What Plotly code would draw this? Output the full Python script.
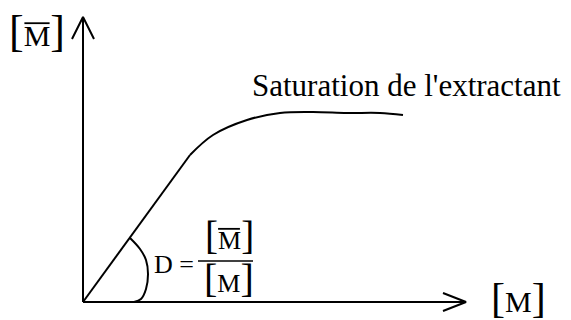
"""Extraction isotherm sketch: organic vs aqueous metal concentration."""

import plotly.graph_objects as go

# axes drawn in px-like units, origin at the corner of the two arrows
X_END = 383          # tip of the [M] arrow
Y_END = 285          # tip of the [M-bar] arrow

# linear part of the isotherm, then the bend up to the plateau
LINEAR_X = [0, 107]
LINEAR_Y = [0, 147]
PLATEAU_X = [107, 130, 164, 197, 230, 264, 297, 320]
PLATEAU_Y = [147, 167, 182, 189, 190, 189, 189, 187]

# small arc marking the slope angle D
ARC_X = [47, 57, 63, 65, 63, 58, 51]
ARC_Y = [64, 53, 42, 28, 13, 3, 0]

SAT_LABEL = "Saturation de l'extractant"

FONT = "Liberation Serif, Times New Roman, serif"
INK = "black"
PAGE_PAD = 8         # default body margin of the html page

fig = go.Figure()


def add_line(xs, ys, shape="linear", width=2):
    fig.add_trace(go.Scatter(
        x=xs, y=ys, mode="lines",
        line=dict(color=INK, width=width, shape=shape),
        hoverinfo="skip", showlegend=False,
    ))


def add_bracket_m(cx, base, fs_m, fs_br, bar=False):
    # [M] with tall brackets, optional overline above the M
    br = f'<span style="font-size:{fs_br}px">%s</span>'
    text = (br % "[") + "M" + (br % "]")
    fig.add_annotation(
        x=cx, y=base + 0.3375 * fs_br, text=text, showarrow=False,
        xanchor="center", yanchor="middle",
        font=dict(family=FONT, size=fs_m, color=INK),
    )
    if bar:
        half = 0.42 * fs_m
        yb = base + 0.66 * fs_m + 3
        fig.add_shape(type="line", x0=cx - half, x1=cx + half, y0=yb, y1=yb,
                      line=dict(color=INK, width=1.8))


# axes with open arrowheads
add_line([0, 0], [0, Y_END])
add_line([-11, 0, 11], [Y_END - 22, Y_END, Y_END - 22])
add_line([0, X_END], [0, 0])
add_line([X_END - 23, X_END, X_END - 23], [9, 0, -9])

# isotherm
add_line(LINEAR_X, LINEAR_Y)
add_line(PLATEAU_X, PLATEAU_Y, shape="spline")
add_line(ARC_X, ARC_Y, shape="spline")

# axis labels
add_bracket_m(-46, 256, 30, 44, bar=True)
add_bracket_m(435, -10, 30, 42)

# D = [M-bar]/[M]
fig.add_annotation(
    x=69, y=38, text="D = ", showarrow=False, xanchor="left", yanchor="middle",
    font=dict(family=FONT, size=26, color=INK),
)
fig.add_shape(type="line", x0=115, x1=170, y0=41, y1=41, line=dict(color=INK, width=1.5))
add_bracket_m(146, 53, 26, 39, bar=True)
add_bracket_m(146, 10, 26, 40)

fig.add_annotation(
    x=167, y=217, text=SAT_LABEL, showarrow=False, xanchor="left", yanchor="middle",
    font=dict(family=FONT, size=31, color=INK),
)

fig.update_layout(
    width=571, height=320,
    margin=dict(l=0, r=0, t=0, b=0),
    plot_bgcolor="white", paper_bgcolor="white",
    xaxis=dict(range=[-83 + PAGE_PAD, 488 + PAGE_PAD], visible=False, fixedrange=True),
    yaxis=dict(range=[-18 - PAGE_PAD, 302 - PAGE_PAD], visible=False, fixedrange=True),
)

fig.write_html("out.html", config={"displayModeBar": False})
